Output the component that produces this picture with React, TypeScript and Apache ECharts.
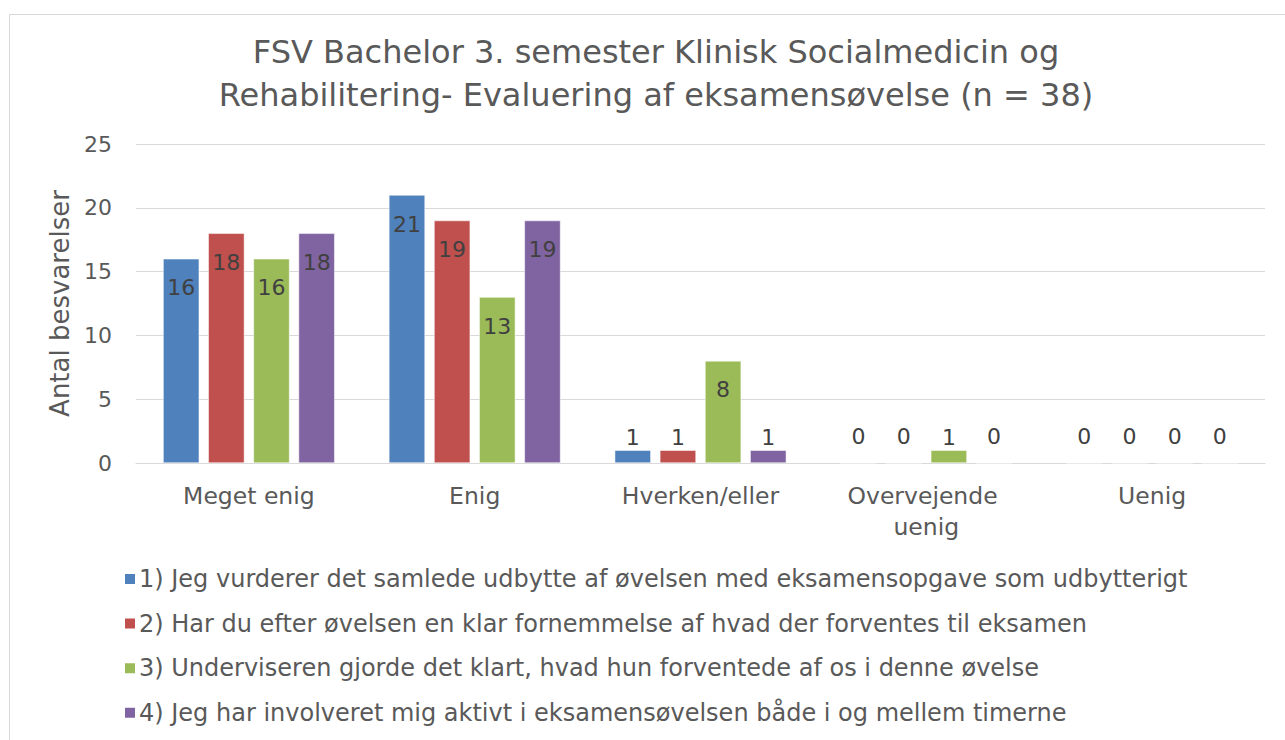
import React, { useEffect, useRef } from "react";
import * as echarts from "echarts";

const titleText = "FSV Bachelor 3. semester Klinisk Socialmedicin og\nRehabilitering- Evaluering af eksamensøvelse (n = 38)";
const yAxisName = "Antal besvarelser";
const categories = ["Meget enig", "Enig", "Hverken/eller", "Overvejende uenig", "Uenig"];
const seriesNames = [
  "1) Jeg vurderer det samlede udbytte af øvelsen med eksamensopgave som udbytterigt",
  "2) Har du efter øvelsen en klar fornemmelse af hvad der forventes til eksamen",
  "3) Underviseren gjorde det klart, hvad hun forventede af os i denne øvelse",
  "4) Jeg har involveret mig aktivt i eksamensøvelsen både i og mellem timerne",
];
const s1 = [16, 21, 1, 0, 0];
const s2 = [18, 19, 1, 0, 0];
const s3 = [16, 13, 8, 1, 0];
const s4 = [18, 19, 1, 0, 0];
const colors = ["#4F81BD", "#C0504D", "#9BBB59", "#8064A2"];
const FONT = "DejaVu Sans";

export default function App() {
  const ref = useRef<HTMLDivElement>(null);
  useEffect(() => {
    if (!ref.current) return;
    const chart = echarts.init(ref.current, undefined, { renderer: "svg" });
    const allSeries = [s1, s2, s3, s4];
    const mkData = (vals: number[]) =>
      vals.map((v) => {
        let label: any;
        if (v >= 5) {
          label = { position: "insideTop", distance: 18 };
        } else if (v >= 1) {
          label = { position: "top", distance: 2 };
        } else {
          label = { position: "top", distance: 15 };
        }
        return { value: v, label };
      });
    chart.setOption({
      animation: false,
      backgroundColor: "#ffffff",
      color: colors,
      title: {
        text: titleText,
        left: 651,
        textAlign: "center",
        top: 25,
        textStyle: {
          fontFamily: FONT,
          fontSize: 32,
          fontWeight: "normal",
          color: "#595959",
          lineHeight: 43,
        },
      },
      graphic: [
        {
          type: "rect",
          shape: { x: 9.5, y: 14.5, width: 1400, height: 900 },
          style: { fill: "none", stroke: "#d9d9d9", lineWidth: 1 },
          silent: true,
        },
      ],
      grid: { left: 136, right: 20, top: 144, bottom: 277, containLabel: false },
      legend: {
        orient: "vertical",
        left: 118,
        top: 561,
        itemWidth: 12,
        itemHeight: 12,
        itemGap: 18.6,
        icon: "rect",
        textStyle: { fontFamily: FONT, fontSize: 24, color: "#595959", lineHeight: 26, padding: [0, 0, 0, -2] },
        data: seriesNames,
      },
      xAxis: {
        type: "category",
        data: categories,
        axisLine: { lineStyle: { color: "#d9d9d9", width: 1 } },
        axisTick: { show: false },
        axisLabel: {
          fontFamily: FONT,
          fontSize: 23.5,
          color: "#595959",
          margin: 17,
          lineHeight: 31,
          width: 190,
          overflow: "break",
          interval: 0,
        },
      },
      yAxis: {
        type: "value",
        min: 0,
        max: 25,
        interval: 5,
        name: yAxisName,
        nameLocation: "middle",
        nameGap: 61,
        nameTextStyle: { fontFamily: FONT, fontSize: 26, color: "#595959" },
        axisLine: { show: false },
        axisTick: { show: false },
        splitLine: { lineStyle: { color: "#d9d9d9", width: 1 } },
        axisLabel: { fontFamily: FONT, fontSize: 22, color: "#595959", margin: 24 },
      },
      series: allSeries.map((vals, i) => ({
        type: "bar",
        name: seriesNames[i],
        data: mkData(vals),
        barGap: "25%",
        barCategoryGap: "24%",
        itemStyle: { color: colors[i], borderColor: "#ffffff", borderWidth: 0.5 },
        label: {
          show: true,
          fontFamily: FONT,
          fontSize: 22,
          color: "#404040",
        },
      })),
    });
    return () => chart.dispose();
  }, []);
  return (
    <div
      ref={ref}
      style={{ position: "fixed", left: 0, top: 0, width: 1285, height: 740, background: "#fff" }}
    />
  );
}
